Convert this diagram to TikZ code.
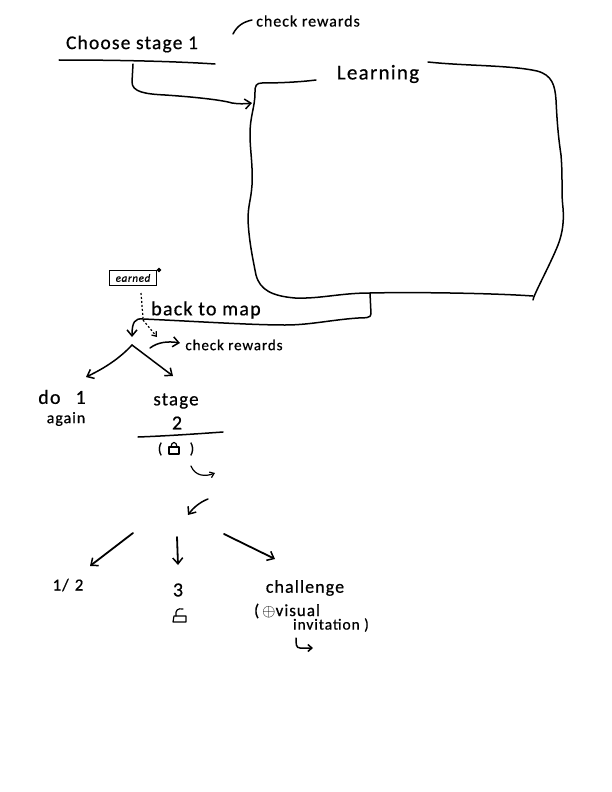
\documentclass[tikz,border=0pt]{standalone}
\usepackage{fontspec}
\setmainfont{Carlito}[LetterSpace=6,FakeBold=0.6]
\usetikzlibrary{arrows.meta}
\tikzset{
  ink/.style={draw=black,line width=1.5pt,line cap=round,line join=round},
  thinink/.style={draw=black,line width=1.2pt,line cap=round,line join=round},
  barb/.style={-{Straight Barb[length=6pt,width=10pt,line width=1.5pt]}},
  dots/.style={draw=black,line width=1.2pt,dash pattern=on 2pt off 2pt},
  label/.style={inner sep=0pt,text=black,align=center},
}
\begin{document}
\begin{tikzpicture}[x=1pt,y=-1pt]
\useasboundingbox (0,0) rectangle (612,792);
% text
\node[label,font=\fontsize{19.5}{19.5}\selectfont] (choose) at (132,44) {Choose stage 1};
\node[label,font=\fontsize{16}{16}\selectfont] (checkA) at (308,21) {check rewards};
\node[label,font=\fontsize{21}{21}\selectfont] (learning) at (378,74) {Learning};
\node[label,draw=black,line width=1.2pt,font=\fontsize{11}{11}\selectfont\itshape,minimum width=47pt,minimum height=15pt] (earned) at (133,278) {earned};
\node[label,font=\fontsize{20}{20}\selectfont] (backmap) at (206,310) {back to map};
\node[label,font=\fontsize{15}{15}\selectfont] (checkB) at (234,345) {check rewards};
\node[label,font=\fontsize{20}{20}\selectfont] (do) at (62,397) {do\hspace{15pt}1};
\node[label,font=\fontsize{16}{16}\selectfont] (again) at (66,419) {again};
\node[label,font=\fontsize{19}{19}\selectfont] (stage) at (176,401) {stage};
\node[label,font=\fontsize{20}{20}\selectfont] (two) at (177,423) {2};
\node[label,font=\fontsize{15}{15}\selectfont] (lp) at (160,449) {(};
\node[label,font=\fontsize{15}{15}\selectfont] (rp) at (192,449) {)};
\node[label,font=\fontsize{17}{17}\selectfont] (half) at (68,585) {1/\hspace{6pt}2};
\node[label,font=\fontsize{20}{20}\selectfont] (three) at (178,590) {3};
\node[label,font=\fontsize{18}{18}\selectfont] (chal) at (305,588) {challenge};
\node[label,font=\fontsize{17}{17}\selectfont] (vis) at (287,611) {(\hspace{3pt}$\oplus$visual};
\node[label,font=\fontsize{15.5}{15.5}\selectfont] (inv) at (331,625) {invitation )};
% named connector ends
\coordinate (uA) at (59,60); \coordinate (uB) at (215,64);
\coordinate (cA) at (133,64); \coordinate (boxin) at (252,103);
\coordinate (boxout) at (370,293); \coordinate (fork) at (132,337);
\coordinate (tip) at (132,345); \coordinate (leftT) at (86,377); \coordinate (rightT) at (173,376);
\coordinate (ulA) at (138,437); \coordinate (ulB) at (223,432);
% underlines
\draw[ink] (uA) .. controls (110,60) and (170,61) .. (uB);
\draw[ink] (ulA) .. controls (165,436) and (195,434) .. (ulB);
% top squiggle
\draw[ink] (233,34) .. controls (237,26) and (243,22) .. (252,20);
% stage 1 to learning
\draw[ink,barb] (cA) -- (132,82) .. controls (132,92) and (145,94) .. (165,95)
  .. controls (195,97) and (222,100) .. (232,103) .. controls (238,104) and (245,104) .. (boxin);
% learning box
\draw[ink] (316,80) .. controls (300,82) and (280,83) .. (262,83)
  .. controls (256,83) and (255,86) .. (255,92)
  .. controls (255,108) and (250,115) .. (250,135)
  .. controls (250,150) and (253,165) .. (252,185)
  .. controls (251,200) and (248,205) .. (248,220)
  .. controls (249,240) and (252,255) .. (256,275)
  .. controls (260,290) and (272,296) .. (295,298)
  .. controls (320,299) and (340,293) .. (370,293)
  .. controls (410,292) and (490,293) .. (533,296);
\draw[ink] (533,300) .. controls (533,296) and (550,265) .. (558,245)
  .. controls (563,232) and (564,220) .. (563,208)
  .. controls (561,190) and (563,180) .. (561,155)
  .. controls (558,135) and (557,120) .. (556,100)
  .. controls (555,85) and (552,75) .. (537,71)
  .. controls (510,65) and (465,66) .. (428,62);
% back to map
\draw[ink,barb] (boxout) -- (371,314) .. controls (371,318) and (365,318) .. (358,318)
  .. controls (330,320) and (310,325) .. (285,325)
  .. controls (250,325) and (190,321) .. (143,319)
  .. controls (135,318) and (132,322) .. (fork);
% dotted
\draw[dots] (141,293) -- (143,318);
\draw[dots,-{Straight Barb[length=4pt,width=6pt]}] (143,320) -- (157,337);
% check rewards arrow
\draw[ink,barb] (150,348) .. controls (158,342) and (168,341) .. (180,343);
% fork
\draw[ink,barb] (tip) .. controls (120,358) and (105,368) .. (leftT);
\draw[ink,barb] (tip) -- (rightT);
% pin on earned
\draw[black,fill=black,line width=1pt] (159,270) circle (1.7pt);
% lock stage 2
\draw[thinink] (169,447) rectangle (179,454);
\draw[thinink] (171,447) .. controls (171,441) and (177,441) .. (177,447);
% small arrows
\draw[thinink,-{Straight Barb[length=4pt,width=6pt,line width=1.2pt]}] (191,466) .. controls (195,476) and (205,477) .. (215,473);
\draw[ink,barb] (208,499) .. controls (200,502) and (193,508) .. (188,515);
\draw[ink,line width=1.8pt,barb] (133,533) -- (90,566);
\draw[ink,line width=1.8pt,barb] (177,537) -- (178,565);
\draw[ink,line width=1.8pt,barb] (224,534) -- (275,559);
% lock 3
\draw[thinink] (173,622) -- (186,622) -- (186,616) -- (174,616) -- cycle;
\draw[thinink] (176,616) .. controls (175,610) and (178,608) .. (183,609);
% last arrow
\draw[ink,-{Straight Barb[length=4pt,width=7pt,line width=1.5pt]}] (296,638) .. controls (296,644) and (296,648) .. (300,648) -- (313,648);
\end{tikzpicture}
\end{document}
